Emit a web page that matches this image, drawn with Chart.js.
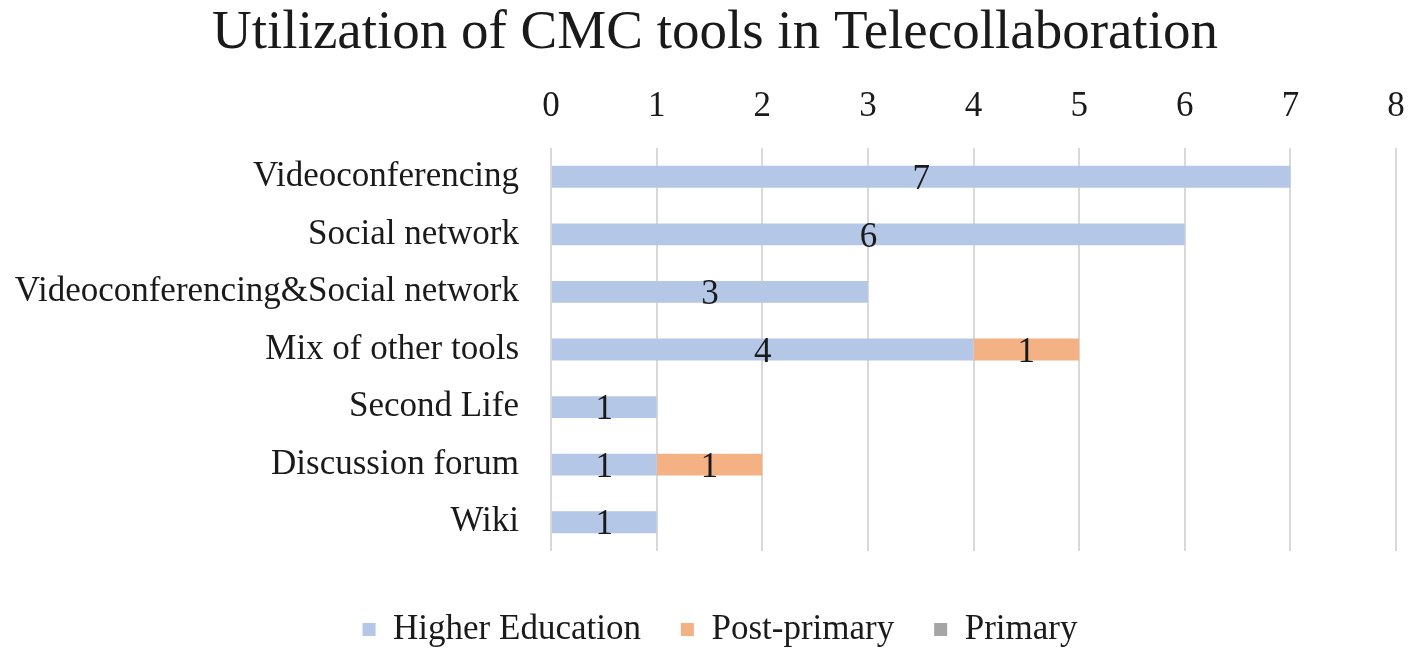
<!DOCTYPE html>
<html>
<head>
<meta charset="utf-8">
<script src="https://cdn.jsdelivr.net/npm/chart.js@4/dist/chart.umd.min.js"></script>
<style>
  html, body { margin: 0; padding: 0; background: #ffffff; }
  #wrap { width: 1409px; height: 651px; position: relative; }
</style>
</head>
<body>
<div id="wrap"><canvas id="chart"></canvas></div>
<script>
// Tools, top to bottom as drawn.
var categories = ['Videoconferencing', 'Social network', 'Videoconferencing&Social network',
    'Mix of other tools', 'Second Life', 'Discussion forum', 'Wiki'];
var higherEducation = [7, 6, 3, 4, 1, 1, 1];
var postPrimary = [0, 0, 0, 1, 0, 1, 0];
var primary = [0, 0, 0, 0, 0, 0, 0];
var xTicks = [0, 1, 2, 3, 4, 5, 6, 7, 8];

var FONT = "'Liberation Serif', 'Times New Roman', serif";
var INK = '#1a1a1a';
var GRID = '#d9d9d9';

Chart.defaults.font.family = FONT;
Chart.defaults.color = INK;

// Value labels centred in each non-empty segment.
var segmentLabels = {
    id: 'segmentLabels',
    afterDatasetsDraw: function (chart) {
        var ctx = chart.ctx;
        ctx.save();
        ctx.font = '35px ' + FONT;
        ctx.fillStyle = INK;
        ctx.textAlign = 'center';
        ctx.textBaseline = 'middle';
        chart.data.datasets.forEach(function (ds, i) {
            var meta = chart.getDatasetMeta(i);
            if (meta.hidden) { return; }
            meta.data.forEach(function (bar, j) {
                var v = ds.data[j];
                if (!v) { return; }
                var p = bar.getProps(['x', 'y', 'base'], true);
                ctx.fillText(String(v), (p.x + p.base) / 2, p.y + 3);
            });
        });
        ctx.restore();
    }
};

// Title and legend sit centred on the whole figure, not on the padded box.
function nudge(box, dx) {
    if (box) { box.left += dx; box.right += dx; }
}
var recentre = {
    id: 'recentre',
    afterLayout: function (chart) {
        nudge(chart.titleBlock, 14);
        nudge(chart.legend, 19);
    }
};

function dataset(label, data, color) {
    return {
        label: label,
        data: data,
        backgroundColor: color,
        borderWidth: 0,
        categoryPercentage: 1.0,
        barPercentage: 0.38
    };
}

new Chart(document.getElementById('chart'), {
    type: 'bar',
    data: {
        labels: categories,
        datasets: [
            dataset('Higher Education', higherEducation, '#b4c7e7'),
            dataset('Post-primary', postPrimary, '#f4b183'),
            dataset('Primary', primary, '#a5a5a5')
        ]
    },
    options: {
        indexAxis: 'y',
        responsive: true,
        maintainAspectRatio: false,
        animation: false,
        layout: { padding: { left: 6, right: 13, top: 0, bottom: -6 } },
        scales: {
            x: {
                position: 'top',
                stacked: true,
                min: 0,
                max: 8,
                afterBuildTicks: function (scale) {
                    scale.ticks = xTicks.map(function (v) { return { value: v }; });
                },
                afterFit: function (scale) {
                    scale.height = 81;
                    scale.paddingRight = 0;
                },
                grid: { color: GRID, lineWidth: 2, drawTicks: false },
                border: { display: false },
                ticks: { font: { size: 35 }, color: INK, padding: 20 }
            },
            // empty strip that keeps the gap between plot and legend
            gap: {
                axis: 'x',
                position: 'bottom',
                display: true,
                afterFit: function (scale) { scale.height = 21; },
                grid: { display: false },
                border: { display: false },
                ticks: { display: false }
            },
            y: {
                stacked: true,
                afterFit: function (scale) { scale.width = 545; },
                grid: { display: false },
                border: { display: false },
                ticks: { font: { size: 35 }, color: INK, padding: 24 }
            }
        },
        plugins: {
            title: {
                display: true,
                text: 'Utilization of CMC tools in Telecollaboration',
                font: { size: 55, weight: 'normal' },
                color: INK,
                padding: { top: 1, bottom: 0 }
            },
            legend: {
                position: 'bottom',
                labels: {
                    font: { size: 35 },
                    color: INK,
                    boxWidth: 13,
                    boxHeight: 13,
                    padding: 40
                }
            },
            tooltip: { enabled: false }
        }
    },
    plugins: [segmentLabels, recentre]
});
</script>
</body>
</html>
